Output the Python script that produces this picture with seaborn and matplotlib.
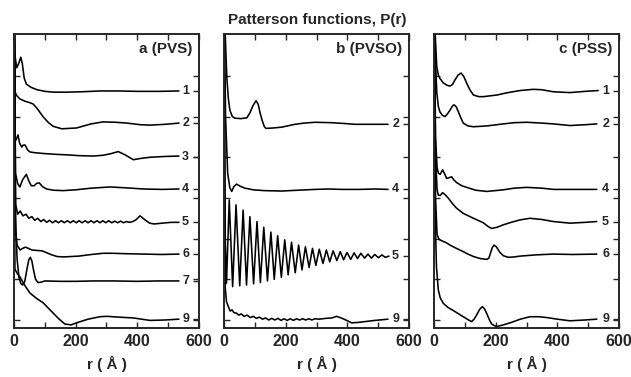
import matplotlib
matplotlib.use('Agg')
import matplotlib.pyplot as plt
import pandas as pd
import seaborn as sns

sns.set_style('ticks')
plt.rcParams['font.family'] = ['Liberation Sans', 'DejaVu Sans']
plt.rcParams['font.weight'] = 'bold'

# ---------------- data: (r in Angstrom, offset P(r)) ----------------
a1 = [(0,8.0),(3,6.5),(9,6.2),(15,6.3),(22,6.46),(27,6.3),(33,5.95),(40,5.8),(55,5.72),(75,5.66),
      (100,5.62),(130,5.60),(170,5.60),(220,5.61),(280,5.63),(340,5.63),(400,5.62),(470,5.62),(535,5.63)]
a2 = [(0,8.0),(4,5.6),(8,5.52),(20,5.43),(35,5.38),(52,5.34),(62,5.31),(75,5.2),(95,4.99),(112,4.85),
      (127,4.76),(155,4.70),(203,4.72),(250,4.82),(289,4.87),(330,4.86),(366,4.84),(410,4.80),(441,4.79),
      (490,4.81),(535,4.84)]
a3 = [(0,8.0),(4,4.4),(8,4.45),(13,4.55),(18,4.35),(25,4.25),(30,4.3),(36,4.3),(44,4.18),(52,4.13),
      (70,4.11),(100,4.09),(140,4.07),(171,4.06),(210,4.04),(257,4.03),(290,4.05),(315,4.09),(338,4.14),
      (360,4.06),(387,3.94),(410,3.97),(441,4.0),(490,4.02),(535,4.03)]
a4 = [(0,8.0),(5,3.6),(12,3.35),(19,3.27),(28,3.45),(40,3.58),(48,3.42),(56,3.30),(65,3.30),(74,3.36),
      (82,3.37),(92,3.28),(106,3.22),(127,3.19),(160,3.18),(200,3.20),(250,3.24),(311,3.27),(360,3.25),
      (420,3.22),(480,3.21),(535,3.22)]
a5 = [(0,8.0),(5,2.85),(12,2.60),(20,2.68),(29,2.56),(39,2.60),(48,2.50),(58,2.54),(67,2.45),(77,2.50),
      (87,2.42),(96,2.47),(106,2.40),(115,2.45),(125,2.39),(135,2.44),(144,2.39),(154,2.44),(163,2.39),
      (173,2.44),(183,2.39),(192,2.44),(202,2.39),(211,2.44),(221,2.39),(231,2.44),(240,2.39),(250,2.44),
      (259,2.39),(269,2.44),(279,2.39),(288,2.44),(298,2.39),(307,2.44),(317,2.39),(327,2.43),(336,2.39),
      (346,2.43),(355,2.39),(365,2.42),(375,2.40),(385,2.42),(395,2.46),(409,2.56),(425,2.46),(440,2.38),
      (455,2.36),(480,2.38),(510,2.40),(535,2.40)]
a6 = [(0,8.0),(5,2.2),(10,1.84),(20,1.72),(28,1.76),(37,1.79),(47,1.76),(58,1.72),(73,1.71),(91,1.70),
      (110,1.64),(123,1.60),(140,1.56),(160,1.55),(185,1.56),(210,1.57),(240,1.60),(263,1.62),(290,1.64),
      (318,1.64),(360,1.63),(420,1.62),(480,1.61),(535,1.62)]
a7 = [(0,8.0),(5,2.5),(10,1.5),(16,1.05),(22,0.90),(28,0.86),(35,0.95),(42,1.25),(48,1.48),(53,1.54),
      (58,1.45),(64,1.2),(70,1.0),(78,0.92),(88,0.93),(100,0.96),(150,0.95),(200,0.95),(260,0.96),
      (320,0.96),(400,0.95),(470,0.96),(535,0.96)]
a9 = [(0,8.0),(3,1.25),(10,1.15),(19,1.06),(35,0.85),(52,0.66),(75,0.52),(95,0.42),(110,0.30),(127,0.17),
      (145,0.03),(165,-0.10),(185,-0.12),(203,-0.07),(240,0.02),(279,0.08),(301,0.09),(340,0.07),
      (387,0.05),(441,-0.01),(490,0.0),(535,0.02)]

b2 = [(0,8.0),(5,6.8),(9,5.98),(14,5.45),(19,5.16),(27,5.0),(36,4.96),(55,4.95),(74,4.97),(84,5.09),
      (94,5.27),(104,5.39),(111,5.30),(117,5.09),(124,4.9),(131,4.75),(136,4.71),(160,4.72),(187,4.74),
      (230,4.81),(260,4.84),(295,4.86),(349,4.85),(390,4.83),(425,4.81),(480,4.81),(532,4.81)]
b4 = [(0,8.0),(5,5.0),(12,3.6),(19,3.25),(25,3.16),(32,3.28),(41,3.34),(52,3.29),(68,3.24),(95,3.20),
      (130,3.18),(187,3.17),(240,3.19),(295,3.21),(340,3.22),(382,3.21),(440,3.21),(490,3.22),(532,3.21)]
b5 = [(0,8.0),(4,2.0),(8,0.9),(17,2.95),(28,0.82),(39,2.83),(51,0.84),(62,2.70),(73,0.86),(84,2.54),
      (96,0.89),(107,2.42),(118,0.92),(129,2.28),(141,0.96),(152,2.16),(163,1.00),(174,2.07),(186,1.05),
      (197,1.97),(208,1.11),(219,1.91),(231,1.16),(242,1.84),(253,1.23),(264,1.80),(276,1.29),(287,1.76),
      (298,1.34),(309,1.74),(321,1.39),(332,1.72),(343,1.43),(354,1.70),(366,1.46),(377,1.68),(388,1.48),
      (399,1.66),(411,1.49),(422,1.65),(433,1.51),(444,1.64),(456,1.52),(467,1.62),(478,1.52),(489,1.61),
      (501,1.53),(512,1.60),(523,1.54),(535,1.57)]
b9 = [(0,8.0),(4,0.8),(8,0.45),(14,0.33),(20,0.22),(26,0.25),(32,0.18),(40,0.17),(48,0.12),(56,0.15),
      (65,0.09),(75,0.12),(85,0.06),(95,0.09),(105,0.04),(115,0.07),(125,0.02),(135,0.05),(145,0.0),
      (155,0.04),(165,0.0),(175,0.04),(185,-0.01),(195,0.03),(205,-0.01),(215,0.03),(225,-0.01),
      (235,0.03),(245,0.0),(255,0.03),(265,0.0),(275,0.03),(285,0.0),(295,0.03),(310,0.02),(330,0.04),
      (350,0.05),(365,0.09),(380,0.05),(395,0.0),(414,-0.07),(435,-0.06),(457,-0.04),(490,-0.01),(532,0.02)]

c1 = [(0,8.0),(4,7.0),(9,6.23),(14,6.02),(19,5.94),(30,5.83),(42,5.77),(52,5.75),(60,5.79),(68,5.90),
      (78,6.02),(88,6.07),(97,5.98),(106,5.82),(117,5.65),(128,5.53),(145,5.49),(160,5.49),(204,5.53),
      (240,5.59),(279,5.64),(322,5.67),(350,5.66),(387,5.61),(441,5.59),(490,5.62),(533,5.64)]
c2 = [(0,8.0),(4,6.5),(9,5.6),(14,5.25),(19,5.12),(27,5.03),(36,5.0),(44,5.07),(52,5.16),(60,5.26),
      (65,5.29),(72,5.24),(79,5.12),(87,4.97),(95,4.84),(110,4.77),(128,4.75),(171,4.77),(225,4.82),
      (260,4.85),(301,4.86),(350,4.84),(387,4.82),(441,4.78),(490,4.80),(528,4.82)]
c4 = [(0,8.0),(5,4.5),(10,3.75),(14,3.61),(20,3.58),(28,3.69),(34,3.6),(41,3.48),(50,3.50),(57,3.52),
      (65,3.44),(73,3.38),(90,3.30),(106,3.26),(135,3.19),(171,3.16),(225,3.20),(260,3.24),(301,3.26),
      (350,3.24),(387,3.21),(450,3.21),(528,3.21)]
c5 = [(0,8.0),(5,4.0),(10,3.2),(14,3.07),(20,3.06),(28,3.13),(36,3.08),(47,2.99),(60,2.86),(73,2.75),
      (95,2.62),(128,2.50),(160,2.39),(175,2.30),(187,2.25),(205,2.28),(225,2.34),(250,2.40),(279,2.46),
      (311,2.50),(350,2.47),(387,2.42),(441,2.38),(490,2.40),(528,2.42)]
c6 = [(0,8.0),(5,3.0),(10,2.1),(15,2.0),(19,1.97),(30,1.93),(40,1.90),(52,1.84),(70,1.77),(95,1.68),
      (110,1.62),(128,1.56),(150,1.51),(171,1.49),(178,1.52),(183,1.64),(189,1.78),(195,1.84),(202,1.80),
      (208,1.73),(214,1.66),(225,1.58),(241,1.54),(260,1.55),(279,1.57),(330,1.60),(387,1.62),(450,1.61),
      (528,1.62)]
c9 = [(0,8.0),(4,2.5),(8,1.3),(14,0.74),(20,0.55),(30,0.41),(45,0.31),(63,0.23),(80,0.15),(95,0.08),
      (110,0.01),(122,-0.04),(130,0.02),(138,0.12),(148,0.26),(157,0.33),(164,0.27),(171,0.16),(180,0.0),
      (187,-0.10),(196,-0.14),(204,-0.16),(225,-0.12),(247,-0.07),(280,0.02),(311,0.08),(340,0.08),
      (366,0.06),(400,0.02),(441,-0.02),(490,0.0),(528,0.02)]

# curve labels and their baseline levels
labels_a = ['1', '2', '3', '4', '5', '6', '7', '9']
base_a = [5.63, 4.84, 4.0, 3.22, 2.41, 1.62, 0.96, 0.02]
labels_b = ['2', '4', '5', '9']
base_b = [4.82, 3.22, 1.57, 0.02]
labels_c = ['1', '2', '4', '5', '6', '9']
base_c = [5.63, 4.82, 3.22, 2.41, 1.62, 0.02]

panel_titles = ['a (PVS)', 'b (PVSO)', 'c (PSS)']
x_ticks = [0, 200, 400, 600]

panels = [
    (panel_titles[0], [a1, a2, a3, a4, a5, a6, a7, a9], labels_a, base_a),
    (panel_titles[1], [b2, b4, b5, b9], labels_b, base_b),
    (panel_titles[2], [c1, c2, c4, c5, c6, c9], labels_c, base_c),
]

W, H = 631, 377
fig = plt.figure(figsize=(W / 100, H / 100), dpi=100)
lefts = [14, 224, 434]
ylo, yhi = -0.197, 7.03

for i, (title, curves, labs, bases) in enumerate(panels):
    ax = fig.add_axes([lefts[i] / W, 49 / H, 185 / W, 294 / H])
    rows = []
    for lab, pts in zip(labs, curves):
        for r, p in pts:
            rows.append((lab, r, p))
    df = pd.DataFrame(rows, columns=['curve', 'r', 'P'])
    sns.lineplot(data=df, x='r', y='P', units='curve', estimator=None, sort=False,
                 color='black', linewidth=1.15, ax=ax, legend=False)
    ax.set_xlim(0, 600)
    ax.set_ylim(ylo, yhi)
    ax.set_xticks(x_ticks)
    ax.set_xticklabels([str(t) for t in x_ticks], fontsize=11.5, fontweight='bold')
    ax.set_xticks([100, 300, 500], minor=True)
    ax.set_yticks(range(7))
    ax.set_yticklabels([])
    ax.tick_params(which='both', direction='in', top=True, bottom=True, left=True,
                   right=False, length=4, width=1, pad=4)
    ax.set_ylabel('')
    ax.set_xlabel('r ( Å )', fontsize=11, fontweight='bold', labelpad=5)
    for s in ax.spines.values():
        s.set_linewidth(1.2)
        s.set_visible(True)
    ax2 = ax.twinx()
    ax2.set_ylim(ylo, yhi)
    ax2.set_yticks(sorted(list(range(7)) + list(bases)))
    ax2.set_yticklabels([])
    ax2.tick_params(direction='in', length=4, width=1)
    for s in ax2.spines.values():
        s.set_linewidth(1.2)
    for lab, b in zip(labs, bases):
        ax.text(568, b, lab, ha='right', va='center', fontsize=9, fontweight='bold')
    ax.text(0.965, 0.972, title, transform=ax.transAxes, ha='right', va='top',
            fontsize=11, fontweight='bold')

fig.text(0.502, 0.948, 'Patterson functions, P(r)', ha='center', va='center',
         fontsize=11, fontweight='bold')

fig.savefig('out.png', dpi=100)
